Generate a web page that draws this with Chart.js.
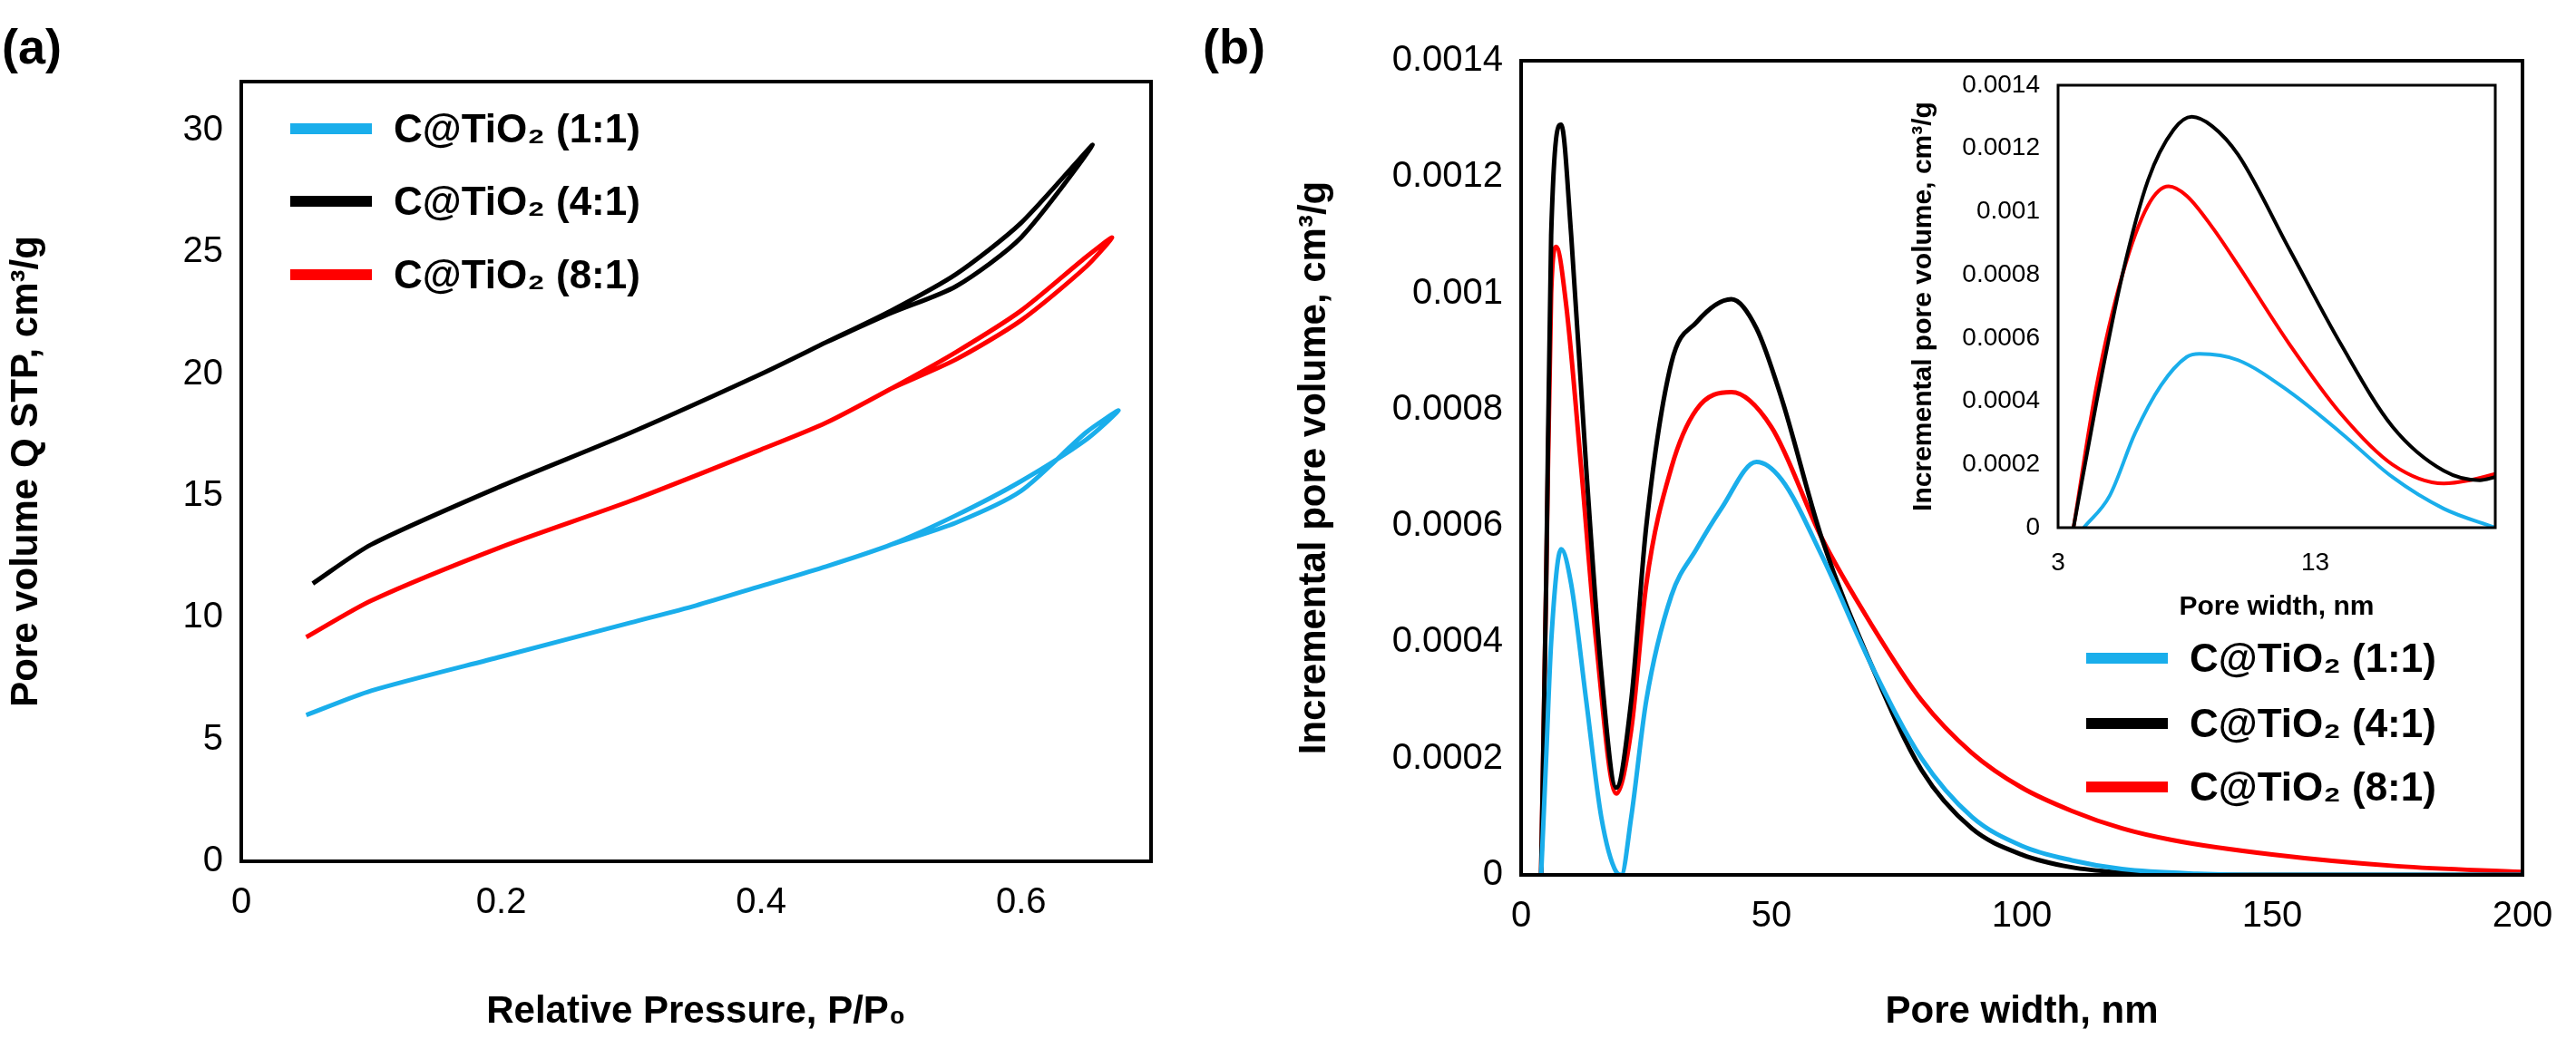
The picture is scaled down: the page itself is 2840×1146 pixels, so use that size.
<!DOCTYPE html>
<html lang="en">
<head>
<meta charset="UTF-8" />
<title>Isotherms and pore size distribution</title>
<script src="https://cdn.jsdelivr.net/npm/chart.js"></script>
<style>
  body { margin: 0; background: #fff; font-family: "Liberation Sans", Arial, sans-serif; }
  #page { position: relative; width: 2840px; height: 1146px; overflow: hidden; }
  .box { position: absolute; }
  .tag { position: absolute; font-weight: bold; font-size: 54px; }
  .leg { position: absolute; display: flex; align-items: center; font-weight: bold; font-size: 44px; }
  .leg span.ln { display: inline-block; width: 90px; height: 12px; margin-right: 24px; }
</style>
</head>
<body>
<div id="page">
  <div class="tag" style="left:2px;top:20px">(a)</div>
  <div class="tag" style="left:1326px;top:20px">(b)</div>
  <div class="box" style="left:0;top:0;width:1290px;height:1146px"><canvas id="isoChart"></canvas></div>
  <div class="box" style="left:1420px;top:0;width:1420px;height:1146px"><canvas id="psdChart"></canvas></div>
  <div class="box" style="left:2099px;top:0;width:660px;height:692px"><canvas id="insetChart"></canvas></div>
  <div id="legA"></div>
  <div id="legB"></div>
</div>
<script>
const seriesNames = ['C@TiO\u2082 (1:1)', 'C@TiO\u2082 (4:1)', 'C@TiO\u2082 (8:1)'];
const seriesColors = ['#1aaeeb', '#000000', '#ff0000'];

// (a) isotherms, adsorption then desorption back
const isoBlue = [[0.05,6],[0.1,7],[0.2,8.4],[0.3,9.8],[0.35,10.5],[0.4,11.3],[0.45,12.1],[0.5,13],[0.55,14.2],[0.6,15.6],[0.65,17.3],[0.675,18.5],[0.65,17.6],[0.6,15.2],[0.55,13.9],[0.5,13]];
const isoBlack = [[0.055,11.4],[0.1,13],[0.2,15.4],[0.3,17.6],[0.4,20],[0.45,21.3],[0.5,22.6],[0.55,24.1],[0.6,26.2],[0.655,29.4],[0.6,25.6],[0.55,23.6],[0.5,22.5],[0.45,21.3]];
const isoRed = [[0.05,9.2],[0.1,10.7],[0.2,12.9],[0.3,14.8],[0.4,16.9],[0.45,18],[0.5,19.4],[0.55,20.9],[0.6,22.6],[0.65,24.8],[0.67,25.6],[0.65,24.4],[0.6,22.2],[0.55,20.6],[0.5,19.4]];

// (b) pore size distribution
const psdBlue = [[4,0],[5,0.0002],[6,0.0004],[8,0.00056],[10,0.0005],[13,0.0003],[16,0.0001],[19,0.000005],[20,0],[22,0.0001],[25,0.0003],[30,0.00048],[35,0.00056],[40,0.00063],[47,0.00071],[52,0.00068],[60,0.00055],[70,0.00036],[80,0.0002],[90,0.0001],[100,0.00005],[110,0.000025],[120,0.00001],[135,0.000002],[150,0],[200,0]];
const psdBlack = [[4,0],[5,0.0005],[6,0.0011],[8,0.00129],[10,0.0011],[13,0.0007],[16,0.00035],[19,0.00015],[22,0.0003],[25,0.0006],[30,0.00088],[35,0.00095],[42,0.00099],[47,0.00094],[52,0.00082],[60,0.00058],[70,0.00036],[80,0.00018],[90,0.00008],[100,0.000035],[110,0.000013],[120,0.000004],[130,0],[200,0]];
const psdRed = [[4,0],[5,0.0005],[6,0.001],[7,0.00108],[9,0.00098],[12,0.0007],[15,0.0004],[19,0.00014],[22,0.00025],[25,0.0005],[30,0.0007],[35,0.0008],[42,0.00083],[50,0.00077],[60,0.00058],[70,0.00043],[80,0.0003],[90,0.00021],[100,0.00015],[110,0.00011],[120,0.00008],[130,0.00006],[150,0.000035],[175,0.000015],[200,0.000005]];

// inset, 3-20 nm
const insBlue = [[4,0],[5,0.0001],[6,0.0003],[7,0.00045],[8,0.00054],[8.5,0.00055],[10,0.00053],[12,0.00043],[14,0.0003],[16,0.00016],[18,0.00006],[20,0]];
const insBlack = [[3.6,0],[4.5,0.0004],[5.5,0.0008],[6.5,0.0011],[7.5,0.00126],[8.2,0.0013],[9,0.00127],[10,0.00118],[12,0.00088],[14,0.00058],[16,0.00032],[18,0.00018],[19.4,0.00015],[20,0.00016]];
const insRed = [[3.6,0],[4.5,0.00045],[5.5,0.0008],[6.5,0.00102],[7.3,0.00108],[8,0.00105],[9,0.00095],[10,0.00083],[12,0.00058],[14,0.00036],[16,0.0002],[18,0.00014],[19,0.00015],[20,0.00017]];

const isoTicks = [0, 0.2, 0.4, 0.6];
const insetTicks = [3, 13];

const toPts = a => a.map(p => ({ x: p[0], y: p[1] }));
const makeSets = (lists, w, mono) => lists.map((l, i) => ({
  label: seriesNames[i], data: toPts(l), borderColor: seriesColors[i],
  borderWidth: w, pointRadius: 0, showLine: true,
  tension: mono ? 0.4 : 0.25, cubicInterpolationMode: mono ? 'monotone' : 'default'
}));

const frame = {
  id: 'frame',
  beforeDraw(c) {
    const a = c.chartArea, x = c.ctx;
    x.save(); x.fillStyle = '#fff'; x.fillRect(a.left, a.top, a.right - a.left, a.bottom - a.top); x.restore();
  },
  afterDraw(c) {
    const a = c.chartArea, x = c.ctx;
    x.save(); x.strokeStyle = '#000'; x.lineWidth = c.options.frameWidth || 4;
    x.strokeRect(a.left, a.top, a.right - a.left, a.bottom - a.top); x.restore();
  }
};

function opts(o) {
  const tf = { family: 'Liberation Sans', size: o.tick };
  const hf = { family: 'Liberation Sans', size: o.title, weight: 'bold' };
  const x = {
    type: 'linear', min: o.xmin, max: o.xmax,
    border: { display: false }, grid: { display: false },
    ticks: { stepSize: o.xstep, color: '#000', font: tf, padding: 14, callback: o.xcb || (v => v) },
    title: { display: true, text: o.xt, color: '#000', font: hf, padding: { top: o.xtp } },
    afterFit: s => { s.height = o.xh; }
  };
  if (o.xticks) x.afterBuildTicks = s => { s.ticks = o.xticks.map(v => ({ value: v })); };
  return {
    responsive: true, maintainAspectRatio: false, animation: false,
    frameWidth: o.fw,
    layout: { padding: o.pad },
    plugins: { legend: { display: false }, tooltip: { enabled: false } },
    scales: {
      x: x,
      y: {
        min: o.ymin, max: o.ymax,
        border: { display: false }, grid: { display: false },
        ticks: { stepSize: o.ystep, color: '#000', font: tf, padding: 12, callback: o.ycb || (v => v) },
        title: { display: true, text: o.yt, color: '#000', font: hf, padding: { bottom: o.ytp } },
        afterFit: s => { s.width = o.yw; }
      }
    }
  };
}

new Chart(document.getElementById('isoChart'), {
  type: 'scatter',
  data: { datasets: makeSets([isoBlue, isoBlack, isoRed], 5, false) },
  options: opts({ pad: { top: 90, right: 21 }, xh: 196, yw: 266, xmin: 0, xmax: 0.7, xstep: 0.2, xticks: isoTicks,
    ymin: 0, ymax: 32, ystep: 5, ycb: v => (v % 5 === 0 ? v : ''), tick: 40, title: 42, fw: 4, xtp: 22, ytp: 20,
    xt: 'Relative Pressure, P/P\u2080', yt: 'Pore volume Q STP, cm\u00b3/g',
    xcb: v => (Math.abs(v) < 1e-9 ? '0' : +v.toFixed(1)) }),
  plugins: [frame]
});

new Chart(document.getElementById('psdChart'), {
  type: 'scatter',
  data: { datasets: makeSets([psdBlue, psdBlack, psdRed], 5, true) },
  options: opts({ pad: { top: 67, right: 59 }, xh: 181, yw: 257, xmin: 0, xmax: 200, xstep: 50,
    ymin: 0, ymax: 0.0014, ystep: 0.0002, tick: 40, title: 42, fw: 4, xtp: 16, ytp: 20,
    xt: 'Pore width, nm', yt: 'Incremental pore volume, cm\u00b3/g',
    ycb: v => (v === 0 ? '0' : +v.toFixed(4)) }),
  plugins: [frame]
});

new Chart(document.getElementById('insetChart'), {
  type: 'scatter',
  data: { datasets: makeSets([insBlue, insBlack, insRed], 4, true) },
  options: opts({ pad: { top: 94, right: 8 }, xh: 110, yw: 170, xmin: 3, xmax: 20, xstep: 10, xticks: insetTicks,
    ymin: 0, ymax: 0.0014, ystep: 0.0002, tick: 28, title: 30, fw: 3, xtp: 4, ytp: 8,
    xt: 'Pore width, nm', yt: 'Incremental pore volume, cm\u00b3/g',
    ycb: v => (v === 0 ? '0' : +v.toFixed(4)) }),
  plugins: [frame]
});

function legend(id, left, lineTops) {
  const el = document.getElementById(id);
  seriesNames.forEach((n, i) => {
    const d = document.createElement('div');
    d.className = 'leg';
    d.style.left = left + 'px';
    d.style.top = (lineTops[i] - 27) + 'px';
    d.innerHTML = '<span class="ln" style="background:' + seriesColors[i] + '"></span>' + n;
    el.appendChild(d);
  });
}
legend('legA', 320, [144, 224, 305]);
legend('legB', 2300, [728, 800, 870]);
</script>
</body>
</html>
